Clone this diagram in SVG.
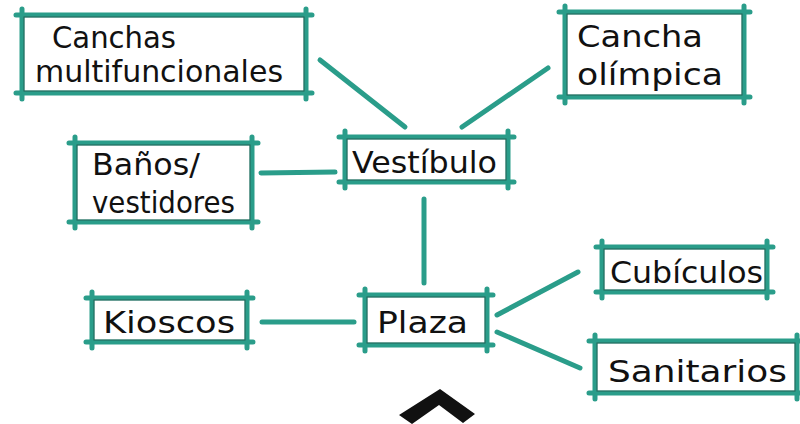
<svg xmlns="http://www.w3.org/2000/svg" width="800" height="424" viewBox="0 0 800 424">
<style>
.bx{fill:none;stroke:#2a9d8a;stroke-width:5;stroke-linecap:round}
.in{fill:none;stroke:#1f4a42;stroke-width:1;opacity:0.7}
.cn{stroke:#2a9d8a;stroke-width:5;stroke-linecap:round;fill:none}
.t{font-family:"DejaVu Sans","Liberation Sans",sans-serif;font-size:30px;fill:#111}
</style>
<rect width="800" height="424" fill="#fff"/>
<g id="connectors">
<line class="cn" x1="320" y1="60" x2="405" y2="127"/>
<line class="cn" x1="548" y1="68" x2="462" y2="127"/>
<line class="cn" x1="261" y1="173" x2="335" y2="172"/>
<line class="cn" x1="424" y1="199" x2="424" y2="283"/>
<line class="cn" x1="262" y1="322" x2="354" y2="322"/>
<line class="cn" x1="497" y1="315" x2="578" y2="272"/>
<line class="cn" x1="497" y1="332" x2="580" y2="368"/>
</g>
<g id="canchas">
<path class="bx" d="M16 15H312M16 93H312M22 9V99M306 9V99"/>
<rect class="in" x="24" y="17" width="280" height="74"/>
<text class="t" x="52" y="48" textLength="124" lengthAdjust="spacingAndGlyphs">Canchas</text>
<text class="t" x="35" y="82" textLength="248" lengthAdjust="spacingAndGlyphs">multifuncionales</text>
</g>
<g id="olimpica">
<path class="bx" d="M559 12H750M559 97H750M565 6V103M744 6V103"/>
<rect class="in" x="567" y="14" width="175" height="81"/>
<text class="t" x="577" y="47" textLength="126" lengthAdjust="spacingAndGlyphs">Cancha</text>
<text class="t" x="577" y="85" textLength="146" lengthAdjust="spacingAndGlyphs">olímpica</text>
</g>
<g id="vestibulo">
<path class="bx" d="M339 137H514M339 182H514M345 131V188M508 131V188"/>
<rect class="in" x="347" y="139" width="159" height="41"/>
<text class="t" x="352" y="173" textLength="145" lengthAdjust="spacingAndGlyphs">Vestíbulo</text>
</g>
<g id="banos">
<path class="bx" d="M69 143H258M69 222H258M75 137V228M252 137V228"/>
<rect class="in" x="77" y="145" width="173" height="75"/>
<text class="t" x="92" y="175" textLength="108" lengthAdjust="spacingAndGlyphs">Baños/</text>
<text class="t" x="92" y="213" textLength="143" lengthAdjust="spacingAndGlyphs">vestidores</text>
</g>
<g id="kioscos">
<path class="bx" d="M86 298H253M86 342H253M92 292V348M247 292V348"/>
<rect class="in" x="94" y="300" width="151" height="40"/>
<text class="t" x="103" y="333" textLength="132" lengthAdjust="spacingAndGlyphs">Kioscos</text>
</g>
<g id="plaza">
<path class="bx" d="M359 295H493M359 345H493M365 289V351M487 289V351"/>
<rect class="in" x="367" y="297" width="118" height="46"/>
<text class="t" x="377" y="333" textLength="91" lengthAdjust="spacingAndGlyphs">Plaza</text>
</g>
<g id="cubiculos">
<path class="bx" d="M596 247H773M596 292H773M602 241V298M767 241V298"/>
<rect class="in" x="604" y="249" width="161" height="41"/>
<text class="t" x="610" y="283" textLength="153" lengthAdjust="spacingAndGlyphs">Cubículos</text>
</g>
<g id="sanitarios">
<path class="bx" d="M589 341H800M589 393H800M595 335V399M797 335V399"/>
<rect class="in" x="597" y="343" width="198" height="48"/>
<text class="t" x="608" y="382" textLength="179" lengthAdjust="spacingAndGlyphs">Sanitarios</text>
</g>
<polygon points="399,415 440,389 475,414 463,423 439,405 412,424" fill="#111"/>
</svg>
